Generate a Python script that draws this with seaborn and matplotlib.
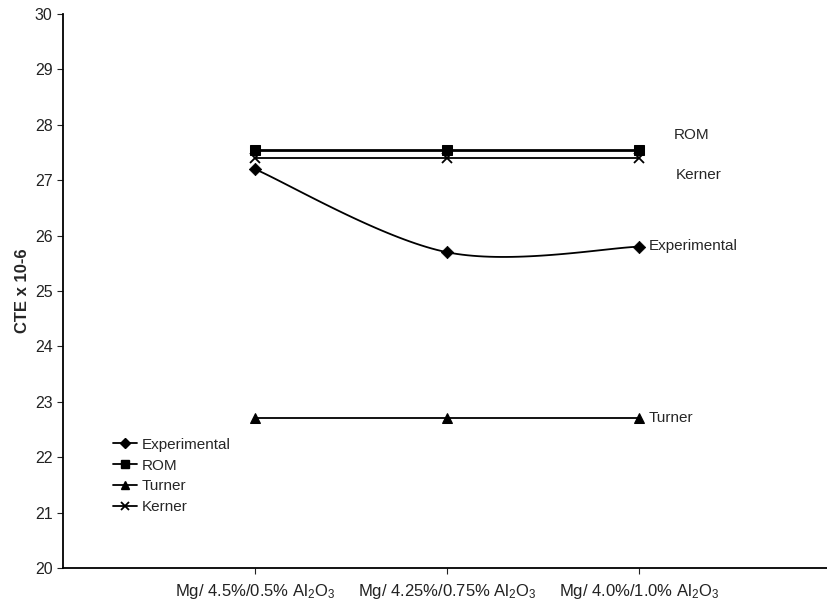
import numpy as np
import pandas as pd
import seaborn as sns
import matplotlib.pyplot as plt
from matplotlib.lines import Line2D

sns.set_style("white")
plt.rcParams['font.family'] = ['Liberation Sans', 'DejaVu Sans']
plt.rcParams['mathtext.default'] = 'regular'

categories = [r"Mg/ 4.5%/0.5% Al$_2$O$_3$",
              r"Mg/ 4.25%/0.75% Al$_2$O$_3$",
              r"Mg/ 4.0%/1.0% Al$_2$O$_3$"]
experimental = [27.2, 25.7, 25.8]
rom = [27.55, 27.55, 27.55]
turner = [22.7, 22.7, 22.7]
kerner = [27.4, 27.4, 27.4]

xpos = [1, 2, 3]


def smooth_curve(x, y, n=40):
    # Excel-style smoothed line (Catmull-Rom through the points)
    p = np.column_stack([x, y]).astype(float)
    p = np.vstack([p[0], p, p[-1]])
    out = []
    for i in range(1, len(p) - 2):
        p0, p1, p2, p3 = p[i - 1], p[i], p[i + 1], p[i + 2]
        c1 = p1 + (p2 - p0) / 6
        c2 = p2 - (p3 - p1) / 6
        t = np.linspace(0, 1, n)[:, None]
        seg = ((1 - t) ** 3) * p1 + 3 * ((1 - t) ** 2) * t * c1 + 3 * (1 - t) * t ** 2 * c2 + t ** 3 * p2
        out.append(seg)
    out = np.vstack(out)
    return out[:, 0], out[:, 1]


fig = plt.figure(figsize=(8.27, 6.03), dpi=100)
ax = fig.add_axes([63 / 827, 35 / 603, 768 / 827, 554 / 603])

sx, sy = smooth_curve(xpos, experimental)
ax.plot(sx, sy, color='black', lw=1.3)
sns.scatterplot(x=xpos, y=experimental, marker='D', s=40, color='black', edgecolor='black', ax=ax)

sns.lineplot(x=xpos, y=rom, marker='s', markersize=7, color='black', mec='black', lw=2, ax=ax)
sns.lineplot(x=xpos, y=turner, marker='^', markersize=7, color='black', mec='black', lw=1.3, ax=ax)
sns.lineplot(x=xpos, y=kerner, marker='x', markersize=7, mew=1.3, color='black', mec='black', lw=1.3, ax=ax)

ax.set_xlim(0, 4)
ax.set_ylim(20, 30)
ax.set_yticks(range(20, 31))
ax.set_xticks(xpos)
ax.set_xticklabels(categories)
ax.tick_params(axis='both', labelsize=11.5, length=4, width=0.8, direction='out',
               left=True, bottom=True, colors='#222222')
ax.tick_params(axis='x', pad=6, labelsize=12)
ax.set_ylabel("CTE x 10-6", fontsize=12, fontweight='bold')
ax.yaxis.set_label_coords(-0.043, 0.5)

for side in ['top', 'right']:
    ax.spines[side].set_visible(False)
for side in ['left', 'bottom']:
    ax.spines[side].set_color('black')
    ax.spines[side].set_linewidth(1.3)

ax.text(3.18, 27.82, "ROM", fontsize=11, va='center')
ax.text(3.19, 27.09, "Kerner", fontsize=11, va='center')
ax.text(3.05, 25.81, "Experimental", fontsize=11, va='center')
ax.text(3.05, 22.71, "Turner", fontsize=11, va='center')

handles = [
    Line2D([], [], color='black', lw=1.3, marker='D', markersize=5),
    Line2D([], [], color='black', lw=1.3, marker='s', markersize=6),
    Line2D([], [], color='black', lw=1.3, marker='^', markersize=6),
    Line2D([], [], color='black', lw=1.3, marker='x', markersize=6, mew=1.3),
]
ax.legend(handles, ["Experimental", "ROM", "Turner", "Kerner"], frameon=False,
          fontsize=11, loc='lower left', bbox_to_anchor=(105 / 827, (603 - 522) / 603),
          bbox_transform=fig.transFigure, handlelength=1.6, handletextpad=0.3,
          labelspacing=0.45, borderpad=0)

fig.savefig("out.png", dpi=100)
